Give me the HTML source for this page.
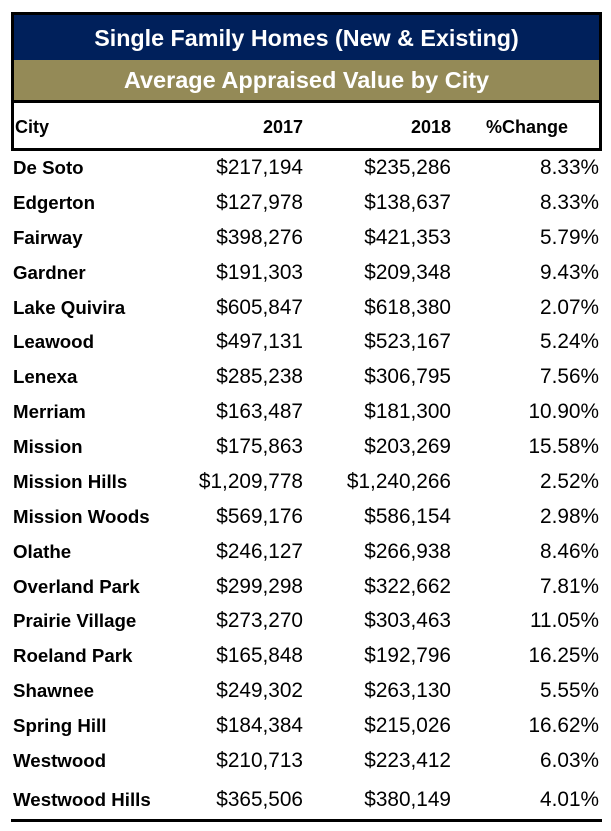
<!DOCTYPE html>
<html><head><meta charset="utf-8"><style>
body{margin:0;width:611px;height:831px;background:#fff;position:relative;font-family:"Liberation Sans",Arial,sans-serif;overflow:hidden}
div{position:absolute}
.t{left:11px;width:591px;text-align:center;color:#fff;font-weight:bold}
.c{left:13px;font-weight:bold;font-size:18.7px;color:#000}
.n{font-size:20.8px;color:#000;text-align:right;width:180px}
.h{font-weight:bold;font-size:18px;color:#000;text-align:right}
</style></head><body>
<div class="t" style="top:12px;height:46px;background:#00205b;border:3px solid #000;border-bottom:2px solid #000;width:585px;left:11px;font-size:23.3px;line-height:46px">Single Family Homes (New &amp; Existing)</div>
<div class="t" style="top:60px;height:40px;background:#948a57;border-left:3px solid #000;border-right:3px solid #000;width:585px;left:11px;font-size:23.5px;line-height:40px">Average Appraised Value by City</div>
<div style="top:100px;left:11px;width:585px;height:45px;border:3px solid #000"></div>
<div class="h" style="top:117px;left:15px;text-align:left">City</div>
<div class="h" style="top:117px;left:203px;width:100px">2017</div>
<div class="h" style="top:117px;left:351px;width:100px">2018</div>
<div class="h" style="top:117px;left:468px;width:100px">%Change</div>
<div style="top:819px;left:11px;width:591px;height:3px;background:#000"></div>
<script>
const cities=["De Soto","Edgerton","Fairway","Gardner","Lake Quivira","Leawood","Lenexa","Merriam","Mission","Mission Hills","Mission Woods","Olathe","Overland Park","Prairie Village","Roeland Park","Shawnee","Spring Hill","Westwood","Westwood Hills"];
const v2017=["$217,194","$127,978","$398,276","$191,303","$605,847","$497,131","$285,238","$163,487","$175,863","$1,209,778","$569,176","$246,127","$299,298","$273,270","$165,848","$249,302","$184,384","$210,713","$365,506"];
const v2018=["$235,286","$138,637","$421,353","$209,348","$618,380","$523,167","$306,795","$181,300","$203,269","$1,240,266","$586,154","$266,938","$322,662","$303,463","$192,796","$263,130","$215,026","$223,412","$380,149"];
const pct=["8.33%","8.33%","5.79%","9.43%","2.07%","5.24%","7.56%","10.90%","15.58%","2.52%","2.98%","8.46%","7.81%","11.05%","16.25%","5.55%","16.62%","6.03%","4.01%"];
cities.forEach((c,i)=>{
  const y=(i<18?168+i*34.88:800);
  const mk=(cls,txt,left,name,off)=>{const d=document.createElement('div');d.className=cls;d.textContent=txt;d.style.top=(y-off)+'px';d.style.left=left+'px';
    
    
    document.body.appendChild(d);};
  mk('c',c,13,'city-name',11);
  mk('n',v2017[i],123,'value-2017',12);
  mk('n',v2018[i],271,'value-2018',12);
  mk('n',pct[i],419,'percent-change',12);
});
</script>
</body></html>
